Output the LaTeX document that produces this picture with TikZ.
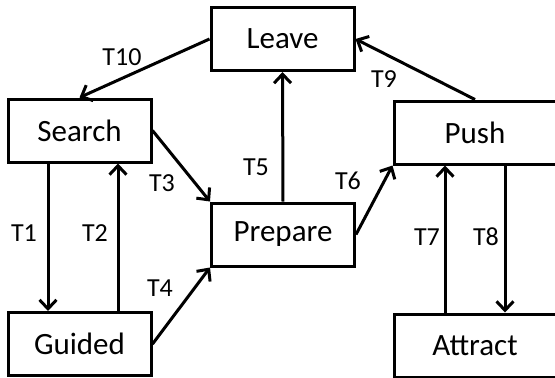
\documentclass[tikz,border=0pt]{standalone}
\usepackage{fontspec}
\setmainfont{Carlito}
\usetikzlibrary{arrows.meta}
\tikzset{
	state/.style={draw, line width=3pt, minimum width=143pt, minimum height=63pt, inner sep=0pt, font=\fontsize{31}{36}\selectfont},
	widestate/.style={state, minimum width=162pt},
	trans/.style={line width=3pt, -{Straight Barb[length=9pt,width=17pt]}},
	tlabel/.style={inner sep=0pt, font=\fontsize{26}{30}\selectfont}
}

\begin{document}
\begin{tikzpicture}[x=1pt, y=-1pt]
			%%%%% START %%%%%
			\useasboundingbox (0, 0) rectangle (555, 378);
			\clip (0, 0) rectangle (555, 378);
			
			\node[state] (leave) at (282.5, 39) {Leave};
			\node[state] (search) at (79.5, 130.5) {Search};
			\node[state] (guided) at (79.5, 344) {Guided};
			\node[state] (prepare) at (283, 234.5) {Prepare};
			\node[widestate] (push) at (475, 132.5) {Push};
			\node[widestate] (attract) at (475, 345.5) {Attract};
			
			\draw[trans] ([xshift=-31.5pt]search.south) -- ([xshift=-31.5pt]guided.north);
			\draw[trans] ([xshift=38.5pt]guided.north) -- ([xshift=38.5pt]search.south);
			\draw[trans] (search.east) -- (prepare.north west);
			\draw[trans] (guided.east) -- (prepare.south west);
			\draw[trans] (prepare.north) -- (leave.south);
			\draw[trans] (prepare.east) -- (push.south west);
			\draw[trans] ([xshift=-30pt]attract.north) -- ([xshift=-30pt]push.south);
			\draw[trans] ([xshift=30pt]push.south) -- ([xshift=30pt]attract.north);
			\draw[trans] (push.north) -- (leave.east);
			\draw[trans] (leave.west) -- (search.north);
			
			\node[tlabel] (t1) at (24, 233) {T1};
			\node[tlabel] (t2) at (95, 233) {T2};
			\node[tlabel] (t3) at (162, 183) {T3};
			\node[tlabel] (t4) at (160, 288) {T4};
			\node[tlabel] (t5) at (256, 167) {T5};
			\node[tlabel] (t6) at (348, 181) {T6};
			\node[tlabel] (t7) at (427, 237) {T7};
			\node[tlabel] (t8) at (486, 237) {T8};
			\node[tlabel] (t9) at (384, 79) {T9};
			\node[tlabel] (t10) at (122, 57) {T10};
			%%%%% END %%%%%
		\end{tikzpicture}
\end{document}
